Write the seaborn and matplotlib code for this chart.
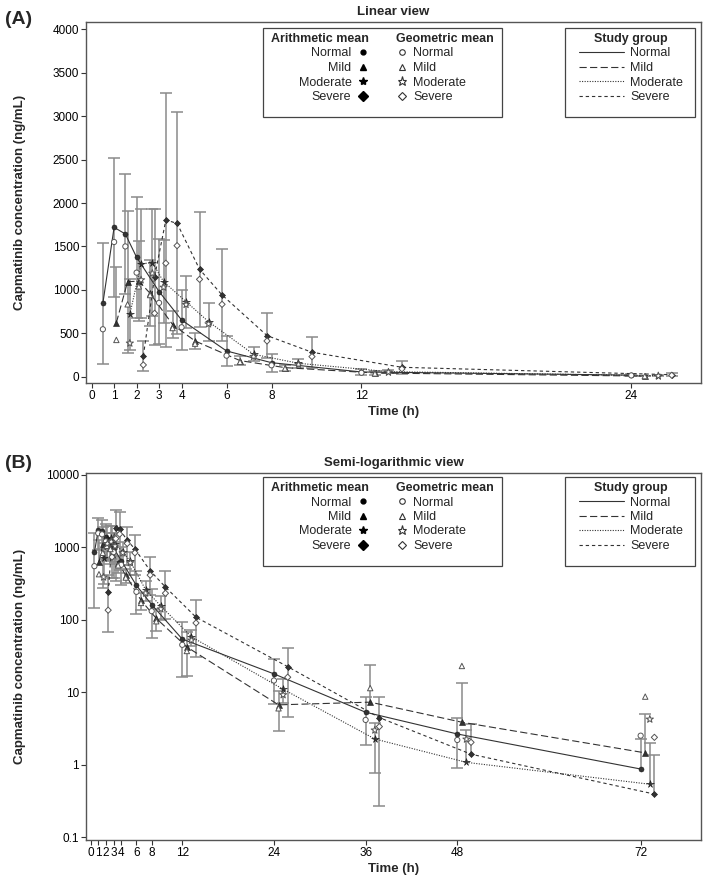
import matplotlib
matplotlib.use("Agg")
import matplotlib.pyplot as plt
import numpy as np
import pandas as pd
import seaborn as sns

from matplotlib.lines import Line2D
from matplotlib.patches import Rectangle
from matplotlib.ticker import FixedLocator, FuncFormatter, NullLocator

sns.set_theme(style="ticks")
plt.rcParams["font.family"] = ["Liberation Sans", "DejaVu Sans"]
plt.rcParams["axes.linewidth"] = 1.0

groups = ["Normal", "Mild", "Moderate", "Severe"]
times = [0.5, 1, 1.5, 2, 3, 4, 6, 8, 12, 24, 36, 48, 72]

# arithmetic means (ng/mL)
normal_mean = [845, 1720, 1643, 1375, 980, 653, 296, 161, 54, 17.9, 5.3, 2.66, 0.875]
mild_mean = [622, 1094, 1100, 960, 600, 411, 185, 104, 42, 6.7, 7.3, 3.86, 1.46]
moderate_mean = [718, 1300, 1313, 1094, 864, 633, 258, 154, 58, 11.0, 2.27, 1.08, 0.54]
severe_mean = [238, 1150, 1804, 1766, 1237, 941, 473, 281, 108, 22.5, 4.47, 1.40, 0.395]

# standard deviations
normal_sd = [700, 802, 692, 698, 600, 350, 175, 105, 38, 11, 3.4, 1.75, 1.39]
mild_sd = [643, 817, 460, 380, 155, 90, 48, 35, 25, 3.8, 16.7, 9.4, 3.55]
moderate_sd = [411, 630, 620, 480, 300, 220, 80, 55, 15, 4.0, 1.5, 1.95, 1.48]
severe_sd = [170, 780, 1460, 1278, 663, 526, 257, 180, 77, 18, 4.2, 2.25, 0.965]

# geometric means
normal_geo = [546, 1551, 1500, 1198, 850, 569, 242, 131, 45, 14.5, 4.15, 2.2, 2.52]
mild_geo = [423, 833, 1040, 940, 560, 380, 170, 95, 37, 6.0, 11.4, 23, 8.7]
moderate_geo = [385, 1114, 1190, 1029, 830, 607, 231, 140, 52, 9.2, 3.0, 2.25, 4.24]
severe_geo = [135, 730, 1306, 1509, 1121, 833, 411, 231, 90, 16.1, 3.36, 2.04, 2.39]

lin_xticks = [0, 1, 2, 3, 4, 6, 8, 12, 24]
log_xticks = [0, 1, 2, 3, 4, 6, 8, 12, 24, 36, 48, 72]
lin_yticks = [0, 500, 1000, 1500, 2000, 2500, 3000, 3500, 4000]
log_yticks = [0.1, 1, 10, 100, 1000, 10000]

rows = []
for g, means, sds, geos in zip(
    groups,
    [normal_mean, mild_mean, moderate_mean, severe_mean],
    [normal_sd, mild_sd, moderate_sd, severe_sd],
    [normal_geo, mild_geo, moderate_geo, severe_geo],
):
    for t, m, s, gm in zip(times, means, sds, geos):
        rows.append({"group": g, "time": t, "arith": m, "sd": s, "geo": gm})
df = pd.DataFrame(rows)
# groups are shifted sideways so the error bars do not overlap
offset = {g: 0.6 * i for i, g in enumerate(groups)}
df["xpos"] = df["time"] + df["group"].map(offset)

markers = {"Normal": "o", "Mild": "^", "Moderate": "*", "Severe": "D"}
mark_size = {"o": 3.6, "^": 3.9, "*": 5.6, "D": 3.1}
geo_size = {"Normal": 14, "Mild": 15, "Moderate": 30, "Severe": 10}
dashes = {"Normal": "", "Mild": (6.5, 3), "Moderate": (1, 1.3), "Severe": (3, 2.6)}
line_col = "#333333"
err_col = "#8a8a8a"

W, H = 709, 886
fig = plt.figure(figsize=(W / 100, H / 100), dpi=100)


def add_axes_px(left, top, right, bottom):
    return fig.add_axes([left / W, 1 - bottom / H, (right - left) / W, (bottom - top) / H])


def px_to_axes(ax, x, y):
    b = ax.get_position()
    return (x / W - b.x0) / b.width, ((1 - y / H) - b.y0) / b.height


def draw_panel(ax, d, log):
    if log:
        ax.set_yscale("log")
    # error bars: mean +/- SD, lower part dropped when it falls below zero
    for g in groups:
        sub = d[d["group"] == g]
        x = sub["xpos"].to_numpy()
        m = sub["arith"].to_numpy()
        s = sub["sd"].to_numpy()
        lo = m - s
        has_lo = lo > 0
        ax.vlines(x, np.where(has_lo, lo, m), m + s, color=err_col, lw=1.1, zorder=1)
        ax.plot(x, m + s, ls="none", marker="_", ms=9, mew=1.1, color=err_col, zorder=1)
        ax.plot(x[has_lo], lo[has_lo], ls="none", marker="_", ms=9, mew=1.1,
                color=err_col, zorder=1)

    sns.lineplot(data=d, x="xpos", y="arith", style="group", style_order=groups,
                 markers=markers, dashes=dashes, color=line_col, linewidth=0.8,
                 markersize=4, markeredgecolor="#1a1a1a", markeredgewidth=0.4,
                 estimator=None, sort=False, legend=False, ax=ax, zorder=3)
    for ln in ax.lines:
        if ln.get_marker() in mark_size:
            ln.set_markersize(mark_size[ln.get_marker()])
    sns.scatterplot(data=d, x="xpos", y="geo", style="group", style_order=groups,
                    markers=markers, size="group", sizes=geo_size, color="white",
                    edgecolor="#555555", linewidth=0.7, legend=False, ax=ax, zorder=4)

    ax.set_xlabel("Time (h)", fontsize=9.5, fontweight="bold", labelpad=3)
    ax.set_ylabel("Capmatinib concentration (ng/mL)", fontsize=9.5, fontweight="bold")
    ax.yaxis.set_label_coords(-0.098, 0.5)
    ax.tick_params(axis="both", labelsize=8.5, length=3.5, width=0.8, pad=1.5,
                   colors="#333333", labelcolor="black")
    ax.tick_params(top=False, right=False)
    for sp in ax.spines.values():
        sp.set_color("#555555")
        sp.set_visible(True)


def draw_legends(ax, top_px):
    # boxes
    for x0, x1 in [(263, 502), (565, 695)]:
        ax0, ay1 = px_to_axes(ax, x0, top_px)
        ax1_, ay0 = px_to_axes(ax, x1, top_px + 89)
        ax.add_patch(Rectangle((ax0, ay0), ax1_ - ax0, ay1 - ay0, transform=ax.transAxes,
                               fill=False, edgecolor="#444444", lw=0.9, zorder=5))

    common = dict(frameon=False, fontsize=9, borderpad=0, borderaxespad=0,
                  labelspacing=0.2, handletextpad=0.5,
                  title_fontproperties={"weight": "bold", "size": 9})
    arith_h = [Line2D([], [], ls="none", marker=markers[g], color="black",
                      markersize={"o": 3.5, "^": 4, "*": 6, "D": 5}[markers[g]]) for g in groups]
    geo_h = [Line2D([], [], ls="none", marker=markers[g], mfc="white", mec="#333333", mew=0.8,
                    markersize={"o": 4, "^": 4.5, "*": 6.5, "D": 4.5}[markers[g]]) for g in groups]
    line_h = [Line2D([], [], color=line_col, lw=0.8, ls="-" if dashes[g] == "" else (0, dashes[g]))
              for g in groups]

    leg1 = ax.legend(arith_h, groups, title="Arithmetic mean", markerfirst=False,
                     loc="upper left", bbox_to_anchor=px_to_axes(ax, 271, top_px + 5),
                     handlelength=0.9, alignment="right", **common)
    ax.add_artist(leg1)
    leg2 = ax.legend(geo_h, groups, title="Geometric mean", loc="upper left",
                     bbox_to_anchor=px_to_axes(ax, 396, top_px + 5),
                     handlelength=0.9, alignment="left", **common)
    ax.add_artist(leg2)
    leg3 = ax.legend(line_h, groups, title="Study group", loc="upper center",
                     bbox_to_anchor=px_to_axes(ax, 631, top_px + 5),
                     handlelength=3.6, alignment="center", **common)
    for leg in (leg1, leg2, leg3):
        leg.set_zorder(6)


# ---- (A) linear view
ax_a = add_axes_px(86, 22, 701, 383)
draw_panel(ax_a, df[df["time"] <= 24], log=False)
ax_a.set_xlim(-0.25, 27.1)
ax_a.set_ylim(-73, 4085)
ax_a.xaxis.set_major_locator(FixedLocator(lin_xticks))
ax_a.yaxis.set_major_locator(FixedLocator(lin_yticks))
ax_a.set_title("Linear view", fontsize=9.5, fontweight="bold", pad=5)
draw_legends(ax_a, 28)

# ---- (B) semi-logarithmic view
ax_b = add_axes_px(86, 473, 701, 840)
draw_panel(ax_b, df, log=True)
ax_b.set_xlim(-0.6, 79.9)
ax_b.set_ylim(0.092, 10490)
ax_b.xaxis.set_major_locator(FixedLocator(log_xticks))
ax_b.yaxis.set_major_locator(FixedLocator(log_yticks))
ax_b.yaxis.set_minor_locator(NullLocator())
ax_b.yaxis.set_major_formatter(FuncFormatter(lambda v, _: f"{v:g}"))
ax_b.set_title("Semi-logarithmic view", fontsize=9.5, fontweight="bold", pad=5)
draw_legends(ax_b, 477)

fig.text(5 / W, 1 - 19 / H, "(A)", fontsize=14, fontweight="bold", va="center", ha="left")
fig.text(5 / W, 1 - 463 / H, "(B)", fontsize=14, fontweight="bold", va="center", ha="left")

fig.savefig("out.png", dpi=100)
